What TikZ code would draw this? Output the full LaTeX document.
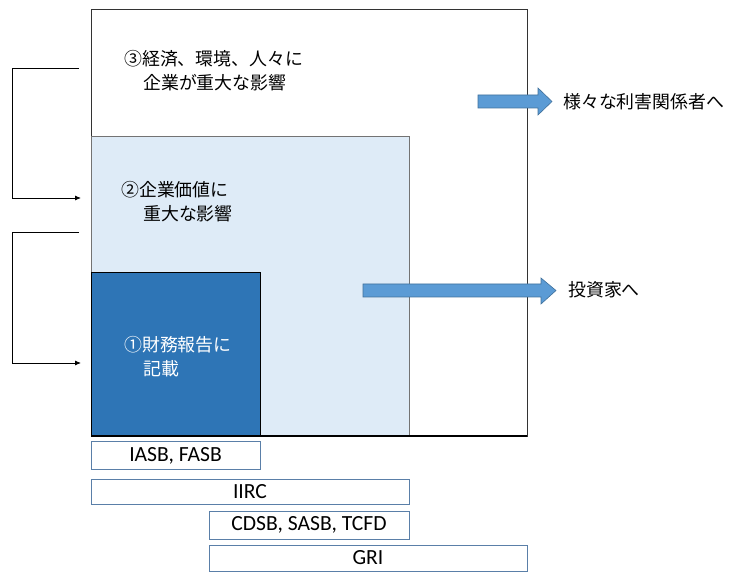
\documentclass[tikz,border=0pt]{standalone}
\usepackage{fontspec}
\setmainfont{Carlito}
\newfontfamily\jp{Noto Sans CJK JP}
\usetikzlibrary{arrows.meta}
\definecolor{darkblue}{HTML}{2E75B6}
\definecolor{lightblue}{HTML}{DEEBF7}
\definecolor{arrowblue}{HTML}{5B9BD5}
\definecolor{arrowedge}{HTML}{41719C}
\definecolor{boxedge}{HTML}{5A7FA8}
\tikzset{
  jptext/.style={font=\jp\fontsize{17.9}{24}\selectfont, inner sep=0pt, align=left, anchor=west},
  lbox/.style={draw=boxedge, line width=1pt, fill=white, font=\fontsize{21.6}{24}\selectfont, inner sep=0pt},
  bracket/.style={draw=black, line width=0.8pt, -{Latex[length=6pt,width=5pt]}},
  blockarrow/.style={fill=arrowblue, draw=arrowedge, line width=0.6pt}
}
\begin{document}
\begin{tikzpicture}[x=1pt,y=-1pt]
\useasboundingbox (0,0) rectangle (732,572);
% outer box
\draw[draw=black!80, line width=0.9pt, fill=white] (91,9) rectangle (527,436);
% middle box
\draw[draw=black!55, line width=0.9pt, fill=lightblue] (91,136) rectangle (409,436);
% inner box
\draw[draw=black, line width=0.9pt, fill=darkblue] (91,272) rectangle (260,436);
\draw[black, line width=1.6pt] (91,436) -- (527,436);

% texts
\node[jptext] (t3) at (124,71) {③経済、環境、人々に\\\hspace{19pt}企業が重大な影響};
\node[jptext] (t2) at (121,202) {②企業価値に\\\hspace{22pt}重大な影響};
\node[jptext, text=white] (t1) at (124,356.5) {①財務報告に\\\hspace{19pt}記載};

% block arrows
\draw[blockarrow] (478,95) -- (538,95) -- (538,88) -- (552,101.5) -- (538,115) -- (538,108) -- (478,108) -- cycle;
\draw[blockarrow] (363,284) -- (541,284) -- (541,278) -- (556,290.5) -- (541,304) -- (541,297) -- (363,297) -- cycle;
\node[jptext] (s1) at (563,102) {様々な利害関係者へ};
\node[jptext] (s2) at (568,290) {投資家へ};

% brackets
\coordinate (a1) at (79,68);
\coordinate (a2) at (81,198);
\coordinate (b1) at (79,232);
\coordinate (b2) at (81,363);
\draw[bracket] (a1) -- (12,68) -- (12,198) -- (a2);
\draw[bracket] (b1) -- (12,232) -- (12,363) -- (b2);

% standard boxes
\node[lbox, minimum width=169pt, minimum height=28pt] (iasb) at (175.5,456) {IASB, FASB};
\node[lbox, minimum width=318pt, minimum height=25pt] (iirc) at (250,491.5) {IIRC};
\node[lbox, minimum width=200pt, minimum height=28pt] (cdsb) at (309,525) {CDSB, SASB, TCFD};
\node[lbox, minimum width=318pt, minimum height=26pt] (gri) at (368,558) {GRI};
\end{tikzpicture}
\end{document}
